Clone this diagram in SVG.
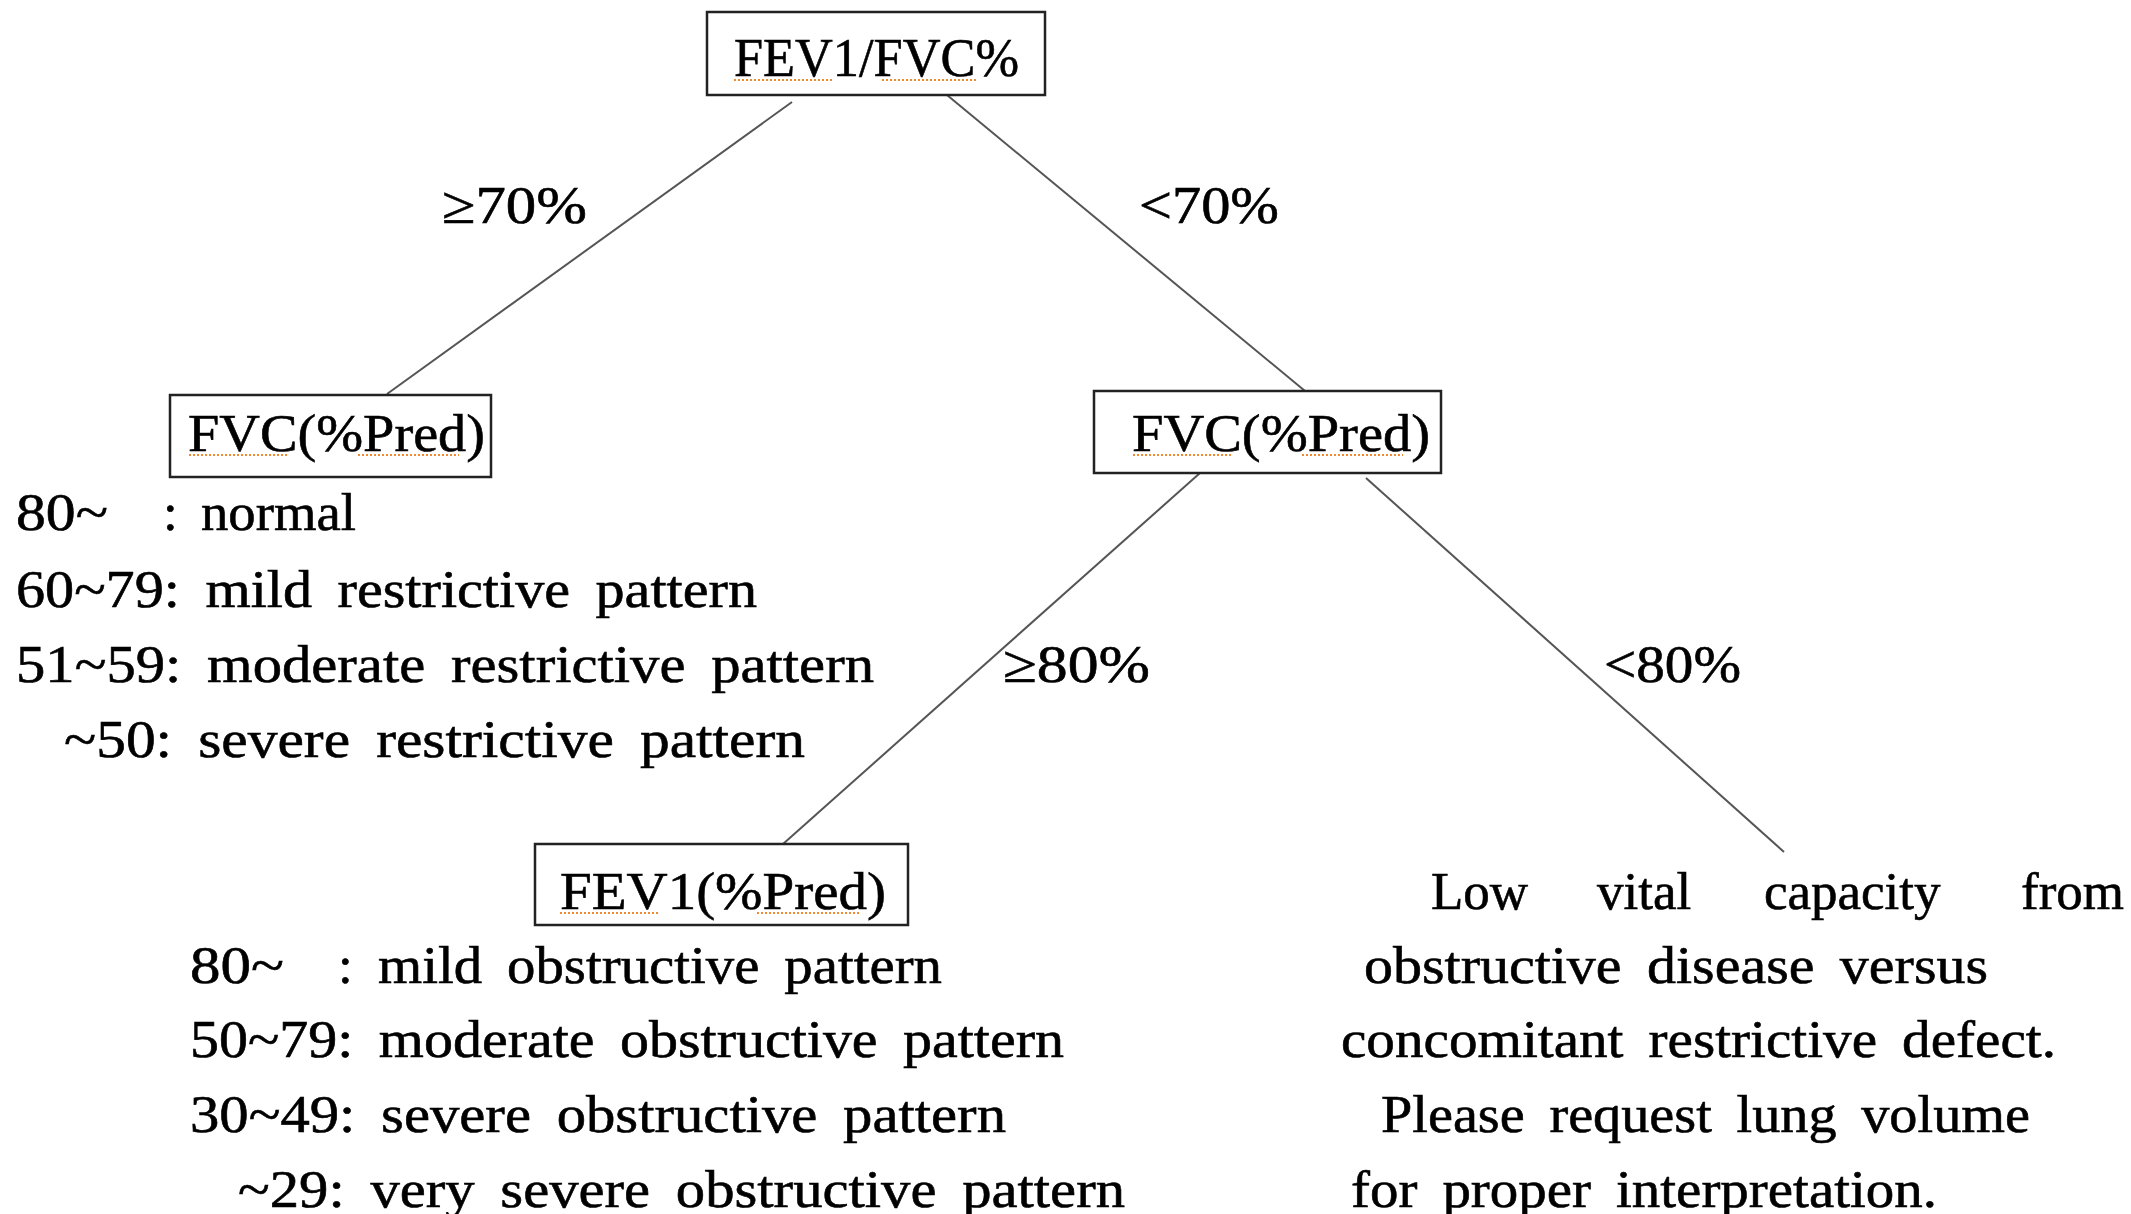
<svg xmlns="http://www.w3.org/2000/svg" width="2131" height="1214" viewBox="0 0 2131 1214">
<style>
text{font-family:"Liberation Serif","DejaVu Serif",serif;font-size:53px;fill:#000;stroke:#000;stroke-width:0.6;word-spacing:10px}
.box{fill:#fff;stroke:#222;stroke-width:2.5}
.conn{stroke:#555;stroke-width:2;fill:none}
.sq{stroke:#f08a30;stroke-width:2;stroke-dasharray:2 2;fill:none}
</style>
<rect width="2131" height="1214" fill="#fff"/>
<g id="connectors">
<line class="conn" x1="792" y1="102" x2="387" y2="394"/>
<line class="conn" x1="947" y1="95" x2="1305" y2="391"/>
<line class="conn" x1="1200" y1="473" x2="783" y2="844"/>
<line class="conn" x1="1366" y1="478" x2="1784" y2="852"/>
</g>
<g id="edge-labels">
<text x="442" y="223" textLength="145" lengthAdjust="spacingAndGlyphs">≥70%</text>
<text x="1139" y="223" textLength="140" lengthAdjust="spacingAndGlyphs">&lt;70%</text>
<text x="1003" y="682" textLength="147" lengthAdjust="spacingAndGlyphs">≥80%</text>
<text x="1604" y="682" textLength="137" lengthAdjust="spacingAndGlyphs">&lt;80%</text>
</g>
<g id="node-root">
<rect class="box" x="707" y="12" width="338" height="83"/>
<text x="734" y="76" textLength="285" lengthAdjust="spacingAndGlyphs" style="font-size:55px">FEV1/FVC%</text>
<path class="sq" d="M734 80H834M882 80H977"/>
</g>
<g id="node-fvc-left">
<rect class="box" x="170" y="395" width="321" height="82"/>
<text x="188" y="451" textLength="297" lengthAdjust="spacingAndGlyphs">FVC(%Pred)</text>
<path class="sq" d="M189 455H288M358 455H459"/>
</g>
<g id="list-restrictive">
<text x="16" y="530" textLength="92" lengthAdjust="spacingAndGlyphs">80~</text>
<text x="163" y="530">:</text>
<text x="201" y="530" textLength="155" lengthAdjust="spacingAndGlyphs">normal</text>
<text x="16" y="607" textLength="741" lengthAdjust="spacingAndGlyphs">60~79: mild restrictive pattern</text>
<text x="16" y="682" textLength="858" lengthAdjust="spacingAndGlyphs">51~59: moderate restrictive pattern</text>
<text x="64" y="757" textLength="741" lengthAdjust="spacingAndGlyphs">~50: severe restrictive pattern</text>
</g>
<g id="node-fvc-right">
<rect class="box" x="1094" y="391" width="347" height="82"/>
<text x="1132" y="451" textLength="298" lengthAdjust="spacingAndGlyphs">FVC(%Pred)</text>
<path class="sq" d="M1133 455H1233M1302 455H1403"/>
</g>
<g id="node-fev1">
<rect class="box" x="535" y="844" width="373" height="81"/>
<text x="560" y="909" textLength="326" lengthAdjust="spacingAndGlyphs">FEV1(%Pred)</text>
<path class="sq" d="M560 913H659M757 913H860"/>
</g>
<g id="list-obstructive">
<text x="190" y="983" textLength="94" lengthAdjust="spacingAndGlyphs">80~</text>
<text x="338" y="983">:</text>
<text x="378" y="983" textLength="564" lengthAdjust="spacingAndGlyphs">mild obstructive pattern</text>
<text x="190" y="1057" textLength="874" lengthAdjust="spacingAndGlyphs">50~79: moderate obstructive pattern</text>
<text x="190" y="1132" textLength="816" lengthAdjust="spacingAndGlyphs">30~49: severe obstructive pattern</text>
<text x="238" y="1207" textLength="887" lengthAdjust="spacingAndGlyphs">~29: very severe obstructive pattern</text>
</g>
<g id="note-low-vc">
<text y="909"><tspan x="1431">Low</tspan><tspan x="1597">vital</tspan><tspan x="1764">capacity</tspan><tspan x="2021">from</tspan></text>
<text x="1364" y="983" textLength="624" lengthAdjust="spacingAndGlyphs">obstructive disease versus</text>
<text x="1341" y="1057" textLength="715" lengthAdjust="spacingAndGlyphs">concomitant restrictive defect.</text>
<text x="1381" y="1132" textLength="649" lengthAdjust="spacingAndGlyphs">Please request lung volume</text>
<text x="1351" y="1207" textLength="586" lengthAdjust="spacingAndGlyphs">for proper interpretation.</text>
</g>
</svg>
